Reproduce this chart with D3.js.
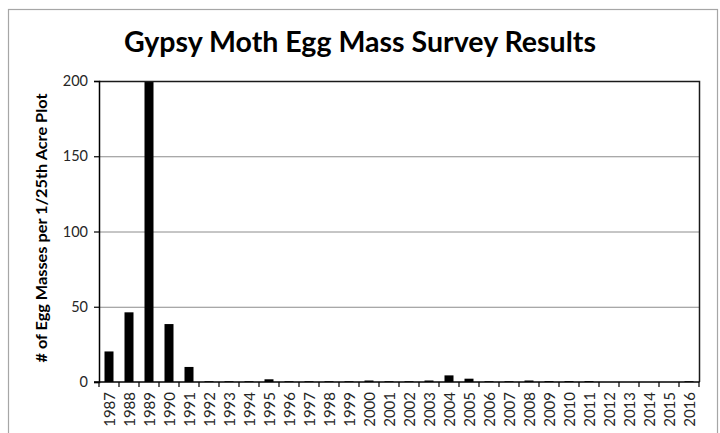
<!DOCTYPE html>
<html>
<head>
<meta charset="utf-8">
<script src="https://cdn.jsdelivr.net/npm/d3@7"></script>
<style>
  html, body { margin: 0; padding: 0; background: #fff; }
  svg { display: block; }
</style>
</head>
<body>
<div id="chart"></div>
<script>
const years = ["1987","1988","1989","1990","1991","1992","1993","1994","1995","1996",
               "1997","1998","1999","2000","2001","2002","2003","2004","2005","2006",
               "2007","2008","2009","2010","2011","2012","2013","2014","2015","2016"];
const eggMasses = [20.3, 46.3, 200, 38.5, 10, 0.5, 0.5, 0.5, 1.8, 0.5,
                   0.5, 0.5, 0.5, 1, 0.5, 0.5, 1, 4.4, 2.2, 0.5,
                   0.5, 1, 0.6, 0.6, 0.6, 0, 0, 0, 0, 0.5];
const yTicks = [0, 50, 100, 150, 200];
const titleText = "Gypsy Moth Egg Mass Survey Results";
const yLabel = "# of Egg Masses per 1/25th Acre Plot";

const W = 720, H = 433;
const plot = { left: 99, right: 699, top: 81, bottom: 382 };

const svg = d3.select("#chart").append("svg")
  .attr("width", W).attr("height", H);

// outer chart border
svg.append("rect")
  .attr("x", 8.5).attr("y", 9.5)
  .attr("width", 709).attr("height", 440)
  .attr("fill", "none").attr("stroke", "#a6a6a6").attr("stroke-width", 1.2);

const x = d3.scaleBand().domain(years)
  .range([plot.left, plot.right])
  .paddingInner(0.55).paddingOuter(0.275);
const y = d3.scaleLinear().domain([0, 200]).range([plot.bottom, plot.top]);

// gridlines
svg.append("g").selectAll("line")
  .data(yTicks.filter(d => d > 0 && d < 200))
  .join("line")
  .attr("x1", plot.left).attr("x2", plot.right)
  .attr("y1", d => y(d) + 0.5).attr("y2", d => y(d) + 0.5)
  .attr("stroke", "#8c8c8c").attr("stroke-width", 1);

// bars
svg.append("g").selectAll("rect")
  .data(years.map((yr, i) => ({ yr, v: eggMasses[i] })))
  .join("rect")
  .attr("x", d => x(d.yr))
  .attr("width", x.bandwidth())
  .attr("y", d => y(d.v))
  .attr("height", d => y(0) - y(d.v))
  .attr("fill", "#000");

// plot frame (top and right)
svg.append("path")
  .attr("d", `M${plot.left},${plot.top + 0.5}H${plot.right + 0.5}V${plot.bottom}`)
  .attr("fill", "none").attr("stroke", "#1a1a1a").attr("stroke-width", 1.5);

// y axis
const yAxis = d3.axisLeft(y).tickValues(yTicks).tickSize(5).tickPadding(6);
const gy = svg.append("g").attr("transform", `translate(${plot.left},0)`).call(yAxis);
gy.select(".domain").attr("stroke", "#000").attr("stroke-width", 1.5);
gy.selectAll(".tick line").attr("stroke", "#000").attr("stroke-width", 1.2);
gy.selectAll(".tick text")
  .attr("font-family", "Lato, 'Open Sans', sans-serif")
  .attr("font-size", 14.5).attr("fill", "#262626");

// x axis
const gx = svg.append("g").attr("transform", `translate(0,${plot.bottom})`);
gx.append("line").attr("x1", plot.left - 5).attr("x2", plot.right + 0.5)
  .attr("y1", 0).attr("y2", 0).attr("stroke", "#000").attr("stroke-width", 1.5);
const tickPos = years.map(yr => x(yr) - x.step() * x.paddingOuter()).concat([plot.right]);
gx.selectAll("line.t").data(tickPos).join("line").attr("class", "t")
  .attr("x1", d => d).attr("x2", d => d).attr("y1", 0).attr("y2", 5)
  .attr("stroke", "#000").attr("stroke-width", 1.2);
gx.selectAll("text").data(years).join("text")
  .attr("transform", d => `translate(${x(d) + x.bandwidth() / 2 + 5.5},10) rotate(-90)`)
  .attr("text-anchor", "end")
  .attr("font-family", "Lato, 'Open Sans', sans-serif")
  .attr("font-size", 15).attr("fill", "#262626")
  .text(d => d);

// title
svg.append("text")
  .attr("x", 360).attr("y", 52)
  .attr("text-anchor", "middle")
  .attr("font-family", "Lato, 'Open Sans', sans-serif")
  .attr("font-weight", "bold").attr("font-size", 28)
  .attr("textLength", 472).attr("lengthAdjust", "spacingAndGlyphs")
  .attr("fill", "#000")
  .text(titleText);

// y label
svg.append("text")
  .attr("transform", `translate(47,228) rotate(-90)`)
  .attr("text-anchor", "middle")
  .attr("font-family", "Lato, 'Open Sans', sans-serif")
  .attr("font-weight", "bold").attr("font-size", 14.5)
  .attr("textLength", 269).attr("lengthAdjust", "spacingAndGlyphs")
  .attr("fill", "#000")
  .text(yLabel);
</script>
</body>
</html>
